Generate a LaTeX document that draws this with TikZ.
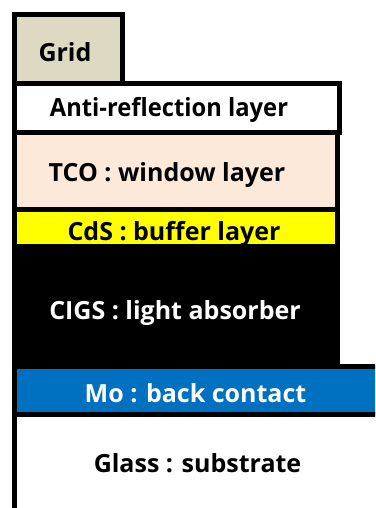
\documentclass[tikz,border=0pt]{standalone}
\usepackage{fontspec}
\setmainfont{Open Sans}
\definecolor{gridtan}{HTML}{DDD9C3}
\definecolor{tcopeach}{HTML}{FDE9D9}
\definecolor{cdsyellow}{HTML}{FFFF00}
\definecolor{moblue}{HTML}{0070C0}
\tikzset{
  layer/.style={draw=black, line width=5pt},
  lbl/.style={anchor=base, inner sep=0pt, font=\fontsize{25}{29}\selectfont\bfseries},
}
\begin{document}
\begin{tikzpicture}[x=1pt,y=-1pt]
\useasboundingbox (0,0) rectangle (375,508);
\clip (0,0) rectangle (375,508);
% layers
\draw[layer, fill=gridtan] (14.5,14.5) rectangle (122,84);
\draw[layer, fill=white] (14.5,84) rectangle (339,132);
\draw[layer, fill=tcopeach] (14.5,132) rectangle (337.5,209.5);
\draw[layer, fill=cdsyellow] (14.5,209.5) rectangle (337.5,246);
\fill[black] (12,246) rectangle (340,368);
\draw[layer, fill=moblue] (14.5,366) rectangle (385,414);
\draw[layer, fill=white] (14.5,414) rectangle (385,520);
% labels
\node[lbl] (grid) at (65,61.5) {Grid};
\node[lbl, xscale=0.95] (ar) at (169,116.5) {Anti-reflection layer};
\node[lbl] (tco) at (167,181.5) {TCO : window layer};
\node[lbl] (cds) at (174,240.5) {CdS : buffer layer};
\node[lbl, text=white] (cigs) at (175,319.5) {CIGS : light absorber};
\node[lbl, text=white] (mo) at (195.5,402) {Mo : back contact};
\node[lbl] (glass) at (197.5,472) {Glass : substrate};
\end{tikzpicture}
\end{document}
